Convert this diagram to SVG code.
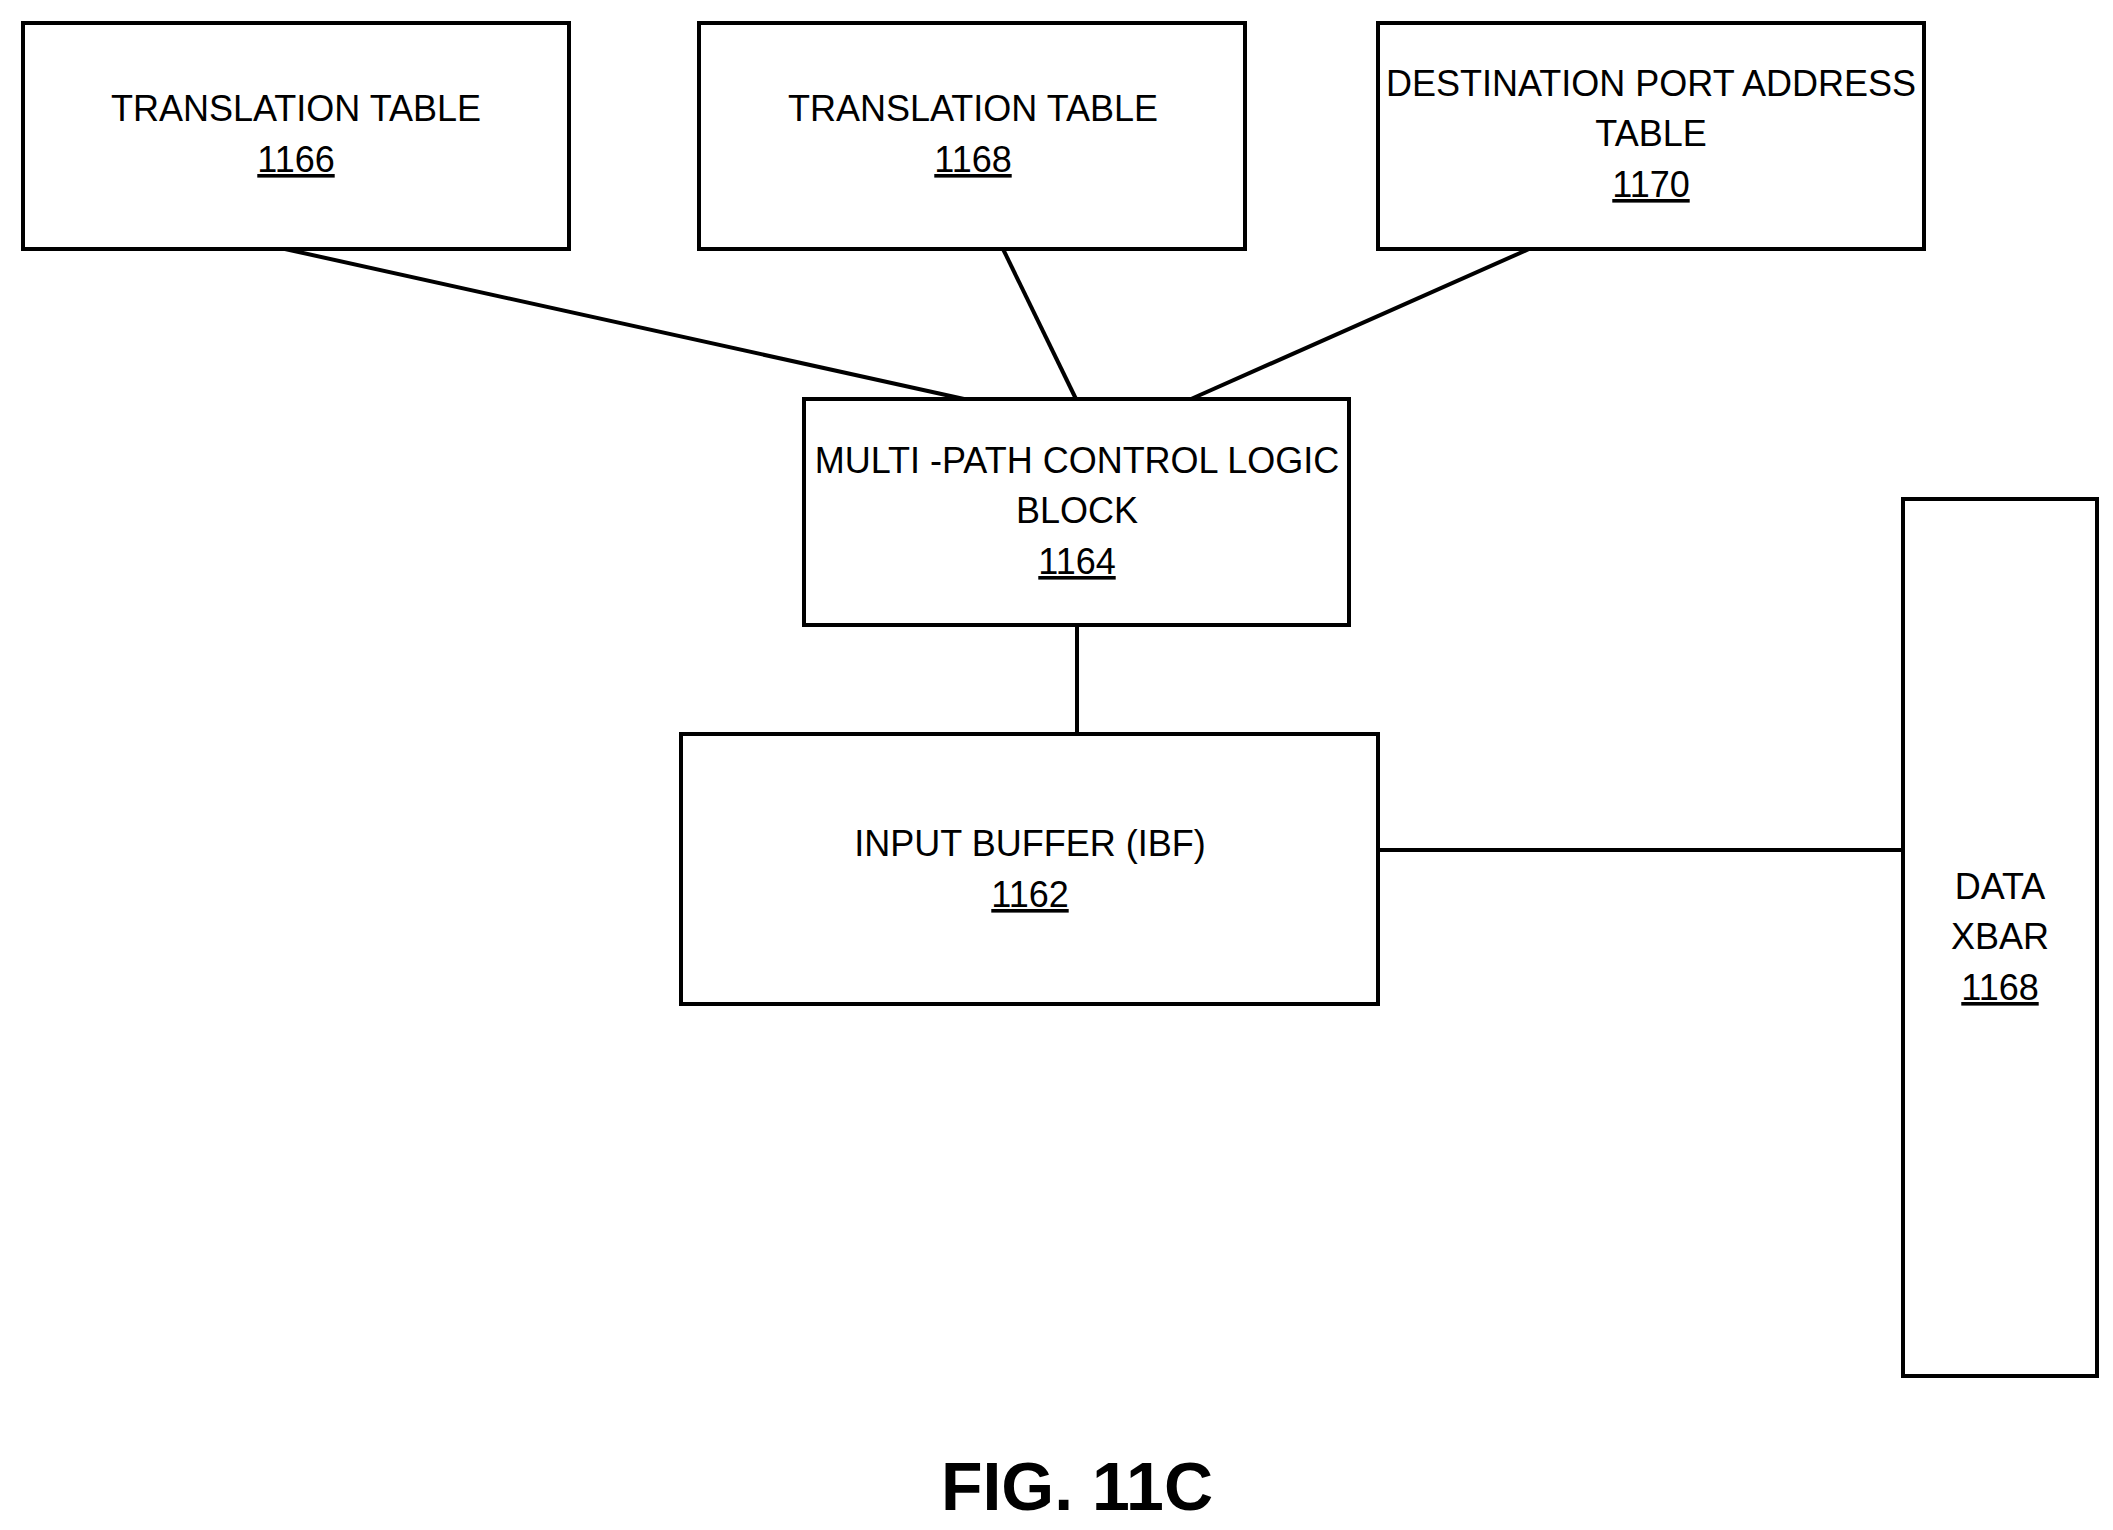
<svg xmlns="http://www.w3.org/2000/svg" width="2113" height="1530" viewBox="0 0 2113 1530">
<style>
.b{fill:#fff;stroke:#000;stroke-width:4}
.t{font-family:"Liberation Sans",Arial,sans-serif;font-size:36px;text-anchor:middle;fill:#000}
.u{text-decoration:underline}
#conn line{stroke:#000;stroke-width:4}
</style>
<rect width="2113" height="1530" fill="#fff"/>
<g id="conn">
<line x1="285" y1="249" x2="964" y2="399"/>
<line x1="1003" y1="249" x2="1076" y2="399"/>
<line x1="1529" y1="249" x2="1191" y2="399"/>
<line x1="1077" y1="625" x2="1077" y2="734"/>
<line x1="1378" y1="850" x2="1903" y2="850"/>
</g>
<g id="n1166"><rect class="b" x="23" y="23" width="546" height="226"/><text class="t" x="296" y="121">TRANSLATION TABLE</text><text class="t u" x="296" y="172">1166</text></g>
<g id="n1168a"><rect class="b" x="699" y="23" width="546" height="226"/><text class="t" x="973" y="121">TRANSLATION TABLE</text><text class="t u" x="973" y="172">1168</text></g>
<g id="n1170"><rect class="b" x="1378" y="23" width="546" height="226"/><text class="t" x="1651" y="96">DESTINATION PORT ADDRESS</text><text class="t" x="1651" y="146">TABLE</text><text class="t u" x="1651" y="197">1170</text></g>
<g id="n1164"><rect class="b" x="804" y="399" width="545" height="226"/><text class="t" x="1077" y="473">MULTI -PATH CONTROL LOGIC</text><text class="t" x="1077" y="523">BLOCK</text><text class="t u" x="1077" y="574">1164</text></g>
<g id="n1162"><rect class="b" x="681" y="734" width="697" height="270"/><text class="t" x="1030" y="856">INPUT BUFFER (IBF)</text><text class="t u" x="1030" y="907">1162</text></g>
<g id="n1168b"><rect class="b" x="1903" y="499" width="194" height="877"/><text class="t" x="2000" y="899">DATA</text><text class="t" x="2000" y="949">XBAR</text><text class="t u" x="2000" y="1000">1168</text></g>
<text x="1077" y="1510" style="font-family:'Liberation Sans',Arial,sans-serif;font-size:68px;font-weight:bold;text-anchor:middle">FIG. 11C</text>
</svg>
